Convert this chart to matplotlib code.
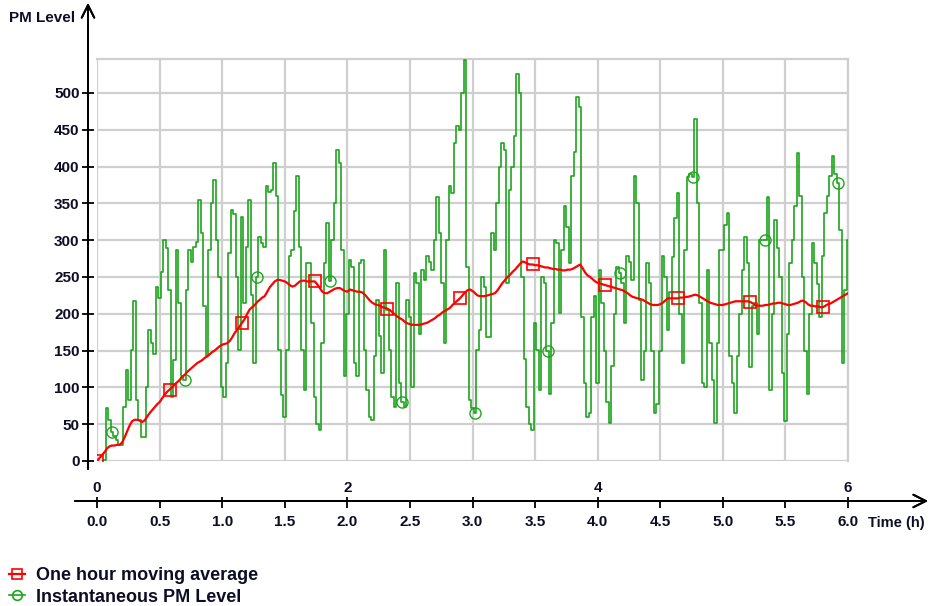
import numpy as np
import matplotlib
matplotlib.use("Agg")
import matplotlib.pyplot as plt
from matplotlib.lines import Line2D

nan = np.nan
DT = 0.02  # hours between samples

# One hour moving average (red), one value every 0.02 h, 0.0 .. 6.0 h
moving_avg = [
    0, 4, 8, 12, 17, 20, 21, 21, 22, 22, 25, 32, 40, 48, 54, 56, 56, 55, 53, 55, 60, 65, 69, 73, 77,
    80, 85, 90, 94, 97, 100, 104, 107, 110, 114, 117, 121, 124, 127, 130, 133, 135, 137, 140, 142, 145, 148, 150, 153, 156,
    158, 159, 160, 163, 168, 174, 178, 183, 188, 193, 200, 206, 209, 212, 216, 219, 222, 224, 230, 236, 240, 244, 246, 246, 245,
    244, 242, 239, 237, 238, 241, 244, 245, 245, 244, 244, 244, 244, 240, 235, 230, 228, 228, 230, 232, 234, 235, 235, 233, 231,
    230, 233, 232, 231, 230, 230, 229, 226, 222, 218, 215, 213, 212, 211, 209, 208, 207, 205, 202, 199, 196, 194, 192, 189, 187,
    186, 185, 185, 185, 185, 186, 187, 188, 190, 192, 194, 197, 199, 202, 204, 206, 208, 212, 215, 218, 221, 225, 229, 232, 233,
    231, 228, 225, 224, 224, 224, 225, 226, 227, 228, 232, 237, 242, 246, 250, 253, 257, 260, 264, 268, 271, 270, 268, 267, 267,
    266, 266, 265, 264, 263, 263, 262, 261, 261, 260, 260, 259, 259, 260, 260, 261, 263, 265, 267, 262, 256, 252, 250, 247, 244,
    242, 241, 240, 239, 238, 237, 236, 235, 234, 233, 232, 230, 228, 225, 223, 222, 221, 220, 219, 217, 215, 213, 212, 212, 212,
    213, 215, 218, 221, 221, 221, 221, 221, 222, 222, 223, 223, 224, 225, 226, 225, 223, 221, 219, 217, 215, 214, 213, 212, 212,
    212, 213, 214, 215, 216, 217, 217, 217, 217, 217, 217, 216, 214, 212, 211, 211, 211, 212, 212, 213, 214, 214, 215, 215, 214,
    213, 212, 212, 213, 214, 215, 217, 218, 216, 213, 211, 211, 210, 210, 209, 209, 211, 213, 214, 216, 218, 220, 222, 224, 226,
    228,
]

# Instantaneous PM level (green), same time grid
instantaneous = [
    nan, nan, nan, 2, 72, 56, 40, 34, 28, 22, 22, 74, 124, 83, 151, 217, 83, 56, 33, 33, 101, 178, 160, 146, 237,
    221, 257, 300, 290, 232, 87, 137, 287, 214, 115, 110, 232, 287, 270, 291, 298, 355, 310, 210, 142, 287, 350, 382, 300, 250,
    101, 87, 133, 282, 341, 336, 250, 151, 332, 214, 291, 355, 225, 133, 250, 305, 296, 291, 373, 365, 368, 405, 360, 151, 90,
    60, 151, 278, 287, 340, 387, 291, 151, 97, 269, 269, 187, 87, 50, 42, 160, 269, 323, 244, 300, 350, 423, 405, 287, 115,
    200, 273, 264, 133, 115, 269, 273, 151, 97, 60, 56, 142, 219, 170, 120, 287, 205, 151, 87, 74, 242, 106, 80, 74, 219,
    196, 101, 255, 242, 173, 260, 246, 278, 270, 260, 300, 359, 310, 242, 160, 300, 373, 364, 432, 455, 450, 500, 545, 264, 83,
    72, 65, 151, 178, 250, 237, 169, 169, 310, 287, 350, 400, 432, 423, 242, 368, 400, 441, 526, 500, 250, 138, 74, 50, 42,
    187, 151, 97, 250, 242, 149, 91, 187, 300, 296, 201, 287, 346, 318, 269, 387, 420, 495, 481, 196, 106, 60, 65, 196, 224,
    106, 260, 214, 150, 80, 51, 129, 200, 264, 255, 242, 187, 278, 270, 246, 387, 350, 219, 110, 150, 269, 242, 150, 65, 78,
    150, 278, 250, 178, 230, 277, 330, 364, 200, 133, 287, 386, 390, 386, 464, 350, 214, 106, 101, 260, 160, 110, 51, 160, 287,
    287, 320, 337, 142, 106, 65, 142, 200, 260, 305, 269, 128, 210, 214, 173, 300, 300, 300, 359, 97, 200, 327, 290, 250, 120,
    55, 173, 269, 300, 346, 418, 360, 250, 150, 91, 200, 296, 269, 240, 196, 278, 337, 360, 387, 414, 390, 378, 314, 133, 232,
    300,
]

x_ticks = [0.0, 0.5, 1.0, 1.5, 2.0, 2.5, 3.0, 3.5, 4.0, 4.5, 5.0, 5.5, 6.0]
x_ticks_top = [0, 2, 4, 6]
y_ticks = [0, 50, 100, 150, 200, 250, 300, 350, 400, 450, 500]
series_labels = ["One hour moving average", "Instantaneous PM Level"]
x_label = "Time (h)"
y_label = "PM Level"

t_red = np.arange(len(moving_avg)) * DT
t_green = np.arange(len(instantaneous)) * DT

RED = "#ff0000"
GREEN = "#1ea51e"
TXT = "#0d0d26"
GRID = "#cfcfcf"
FONT = ["Liberation Sans", "DejaVu Sans"]
TICK_SIZE = 11

W, H = 931, 606
fig = plt.figure(figsize=(W / 100, H / 100), dpi=100)
L, R, T, B = 97, 848, 59, 461
ax = fig.add_axes([L / W, (H - B) / H, (R - L) / W, (B - T) / H])
ax.set_xlim(0, 6)
ax.set_ylim(0, (B - T) / (368.0 / 500))

# grid
for xv in x_ticks:
    ax.axvline(xv, color=GRID, lw=1.6, zorder=0)
for yv in y_ticks:
    ax.axhline(yv, color=GRID, lw=1.6, zorder=0)
for s in ["top", "right"]:
    ax.spines[s].set_color(GRID)
    ax.spines[s].set_linewidth(1.6)

# data
ax.plot(t_green, instantaneous, color=GREEN, lw=1.2, drawstyle="steps-mid",
        marker="o", markersize=8, markerfacecolor="none", markeredgecolor=GREEN,
        markeredgewidth=1.0, markevery=(6, 29), zorder=3, label=series_labels[1])
ax.plot(t_red, moving_avg, color=RED, lw=1.6, marker="s", markersize=8,
        markerfacecolor="none", markeredgecolor=RED, markeredgewidth=1.2,
        markevery=29, zorder=4, label=series_labels[0])

# left axis (offset), with arrow drawn separately
ax.spines["left"].set_position(("outward", 9 * 0.72))
ax.spines["left"].set_visible(False)
ax.set_yticks(y_ticks)
ax.tick_params(axis="y", direction="inout", length=8, width=1.3, color="black", pad=2,
               labelsize=TICK_SIZE, labelcolor=TXT)
for lab in ax.get_yticklabels():
    lab.set_fontfamily(FONT)
    lab.set_fontweight("bold")

# bottom axis (offset)
ax.spines["bottom"].set_position(("outward", 40 * 0.72))
ax.spines["bottom"].set_visible(False)
ax.set_xticks(x_ticks)
ax.set_xticklabels([f"{v:.1f}" for v in x_ticks])
ax.tick_params(axis="x", direction="out", length=5, width=1.3, color="black", pad=5,
               labelsize=TICK_SIZE, labelcolor=TXT)
for lab in ax.get_xticklabels():
    lab.set_fontfamily(FONT)
    lab.set_fontweight("bold")

# secondary scale with labels above the time line
sec = ax.secondary_xaxis(-40 / (B - T))
sec.set_alignment("top")
sec.spines["top"].set_visible(False)
sec.spines["bottom"].set_visible(False)
sec.set_xticks(x_ticks_top)
sec.set_xticklabels([str(v) for v in x_ticks_top])
sec.set_xticks([1, 3, 5], minor=True)
sec.tick_params(axis="x", which="both", direction="out", length=3, width=1.3, color="black",
                pad=1, labelsize=TICK_SIZE, labelcolor=TXT)
for lab in sec.get_xticklabels():
    lab.set_fontfamily(FONT)
    lab.set_fontweight("bold")


def px(x, y):
    return (x / W, 1 - y / H)


# axis lines with arrow heads
fig.add_artist(plt.annotate("", xy=px(88, 3), xytext=px(88, 469), xycoords="figure fraction",
                            textcoords="figure fraction",
                            arrowprops=dict(arrowstyle="->,head_length=0.9,head_width=0.45",
                                            color="black", lw=1.4, shrinkA=0, shrinkB=0)))
fig.add_artist(plt.annotate("", xy=px(928, 501), xytext=px(75, 501), xycoords="figure fraction",
                            textcoords="figure fraction",
                            arrowprops=dict(arrowstyle="->,head_length=0.9,head_width=0.45",
                                            color="black", lw=1.4, shrinkA=0, shrinkB=0)))

fig.text(*px(9, 18), y_label, ha="left", va="center", fontsize=11, fontweight="bold",
         family=FONT, color=TXT)
fig.text(*px(868, 523), x_label, ha="left", va="center", fontsize=10.5, fontweight="bold",
         family=FONT, color=TXT)

# legend
handles = [
    Line2D([], [], color=RED, lw=1.6, marker="s", markersize=7, markerfacecolor="none",
           markeredgecolor=RED, markeredgewidth=1.2),
    Line2D([], [], color=GREEN, lw=1.2, marker="o", markersize=7, markerfacecolor="none",
           markeredgecolor=GREEN, markeredgewidth=1.2),
]
leg = fig.legend(handles, series_labels, loc="lower left", bbox_to_anchor=(2 / W, -7 / H),
                 frameon=False, handlelength=0.9, handletextpad=0.6, labelspacing=0.25,
                 borderaxespad=0.2, borderpad=0.2,
                 prop={"family": FONT, "weight": "bold", "size": 13})
for txt in leg.get_texts():
    txt.set_color(TXT)

fig.savefig("out.png", dpi=100)
